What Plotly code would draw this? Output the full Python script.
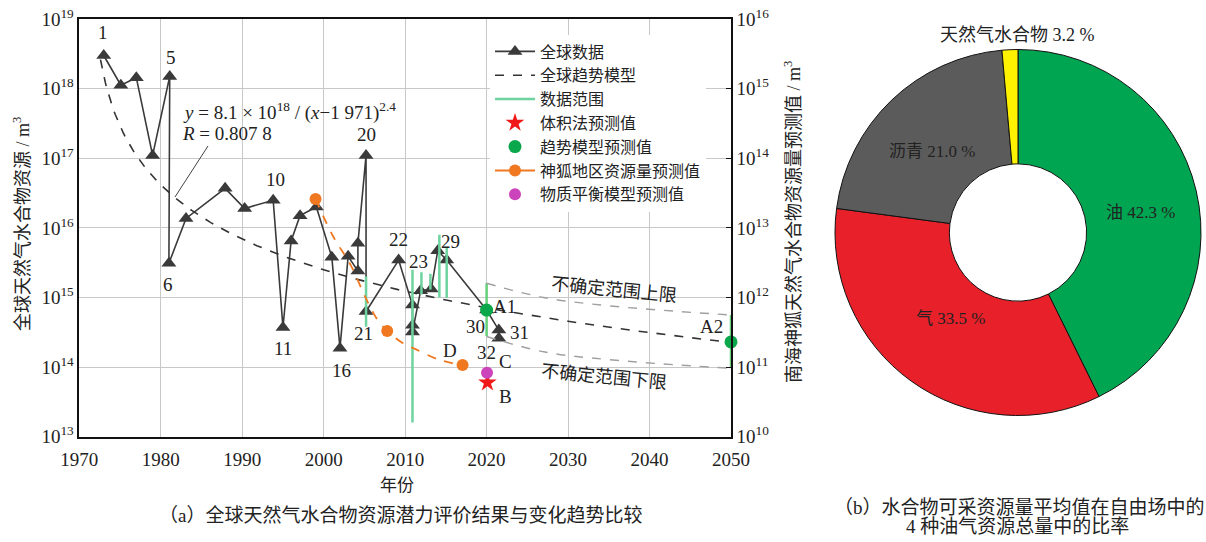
import plotly.graph_objects as go

W, H = 1206, 542
FONT = "Liberation Serif, Noto Sans CJK SC, serif"

# ---------------- data: global hydrate estimates (left axis, m^3) ----------------
g_years = [1973, 1975.1, 1977, 1979, 1981.1, 1981, 1983.1, 1987.9, 1990.3, 1993.8,
           1995, 1996, 1997.1, 1999.1, 2001, 2002, 2003, 2004.2, 2004.2, 2005.2,
           2005.2, 2009.2, 2010.9, 2010.9, 2010.9, 2011.9, 2013.2, 2014, 2015.1,
           2020, 2021.5, 2021.5]
g_values = [3.0e18, 1.12e18, 1.44e18, 1.1e17, 1.5e18, 3.1e15, 1.37e16, 3.7e16, 1.9e16, 2.5e16,
            3.7e14, 6.5e15, 1.5e16, 2.0e16, 3.8e15, 1.87e14, 3.9e15, 2.4e15, 6.0e15, 1.1e17,
            6.3e14, 3.45e15, 7.8e14, 4.0e14, 3.2e14, 1.25e15, 1.32e15, 4.7e15, 3.45e15,
            6.6e14, 3.4e14, 2.6e14]

# data ranges (green bars)
range_years = [2005.2, 2010.9, 2012.0, 2013.1, 2014.2, 2015.1]
range_low = [3.8e14, 1.6e13, 1.1e15, 1.3e15, 1.0e15, 9.8e14]
range_high = [2.0e15, 2.5e15, 2.3e15, 2.2e15, 8.0e15, 5.2e15]

# trend model y = 8.1e18 / (x - 1971)^2.4 (as stated in the chart)
model_a, model_x0, model_p = 8.1e18, 1971, 2.4
model_years = [1972.6 + i * 0.2 for i in range(int((2050 - 1972.6) / 0.2) + 1)]

# ---------------- Shenhu predictions (right axis, m^3) ----------------
a_years = [2020, 2050]
a_values = [6.6e11, 2.3e11]
a_high = [1.6e12, 5.6e11]
a_low = [2.8e11, 9.6e10]

unc_years = [2020, 2027, 2035, 2050]
unc_upper = [1.6e12, 1.0e12, 7.6e11, 5.6e11]
unc_lower = [2.75e11, 1.66e11, 1.28e11, 9.6e10]

sh_curve_years = [1999.0, 2001.2, 2003.3, 2005.1, 2006.5, 2007.8, 2009.5, 2011.4, 2014.3, 2017.05]
sh_curve_vals = [2.6e13, 7.4e12, 2.95e12, 1.02e12, 5.0e11, 3.3e11, 2.3e11, 1.78e11, 1.26e11, 1.07e11]
sh_pt_years = [1999.0, 2007.8, 2017.05]
sh_pt_vals = [2.6e13, 3.3e11, 1.07e11]

b_year, b_value = 2020.1, 6.0e10   # volumetric
c_year, c_value = 2020.05, 8.3e10  # material balance

# ---------------- pie ----------------
pie_labels = ["油", "气", "沥青", "天然气水合物"]
pie_text = ["油 42.3 %", "气 33.5 %", "沥青 21.0 %", "天然气水合物 3.2 %"]
pie_values = [42.7, 34.4, 21.5, 1.4]   # slice sizes as drawn
pie_colors = ["#00A551", "#E8202A", "#5B5B5B", "#FFF200"]

ytick_vals = [13, 14, 15, 16, 17, 18, 19]


def P(px, py):
    return px / W, 1 - py / H


fig = go.Figure()

fig.add_trace(go.Scatter(x=g_years, y=g_values, mode="lines+markers", name="全球数据",
                         line=dict(color="#3a3a3a", width=1.6),
                         marker=dict(symbol="triangle-up", size=13, color="#3a3a3a"),
                         cliponaxis=False))
fig.add_trace(go.Scatter(x=model_years,
                         y=[model_a / (x - model_x0) ** model_p for x in model_years],
                         mode="lines", name="全球趋势模型",
                         line=dict(color="#333333", width=1.6, dash="dash")))
rx, ry = [], []
for yr, lo, hi in zip(range_years, range_low, range_high):
    rx += [yr, yr, None]
    ry += [lo, hi, None]
fig.add_trace(go.Scatter(x=rx, y=ry, mode="lines", name="数据范围",
                         line=dict(color="#6fd3a0", width=2.5)))
fig.add_trace(go.Scatter(x=[b_year], y=[b_value], yaxis="y2", mode="markers", name="体积法预测值",
                         marker=dict(symbol="star", size=14, color="#f01818")))
fig.add_trace(go.Scatter(x=a_years, y=a_values, yaxis="y2", mode="markers", name="趋势模型预测值",
                         marker=dict(symbol="circle", size=13, color="#0aa84a"),
                         error_y=dict(type="data", symmetric=False,
                                      array=[h - v for h, v in zip(a_high, a_values)],
                                      arrayminus=[v - l for v, l in zip(a_values, a_low)],
                                      color="#66d07a", thickness=2.5, width=0),
                         cliponaxis=False))
# Shenhu: legend entry (line with dot), dashed curve, points
fig.add_trace(go.Scatter(x=[None], y=[None], yaxis="y2", mode="lines+markers",
                         name="神狐地区资源量预测值", legendgroup="sh",
                         line=dict(color="#f07820", width=2),
                         marker=dict(symbol="circle", size=12, color="#f07820")))
fig.add_trace(go.Scatter(x=sh_curve_years, y=sh_curve_vals, yaxis="y2", mode="lines",
                         showlegend=False, legendgroup="sh",
                         line=dict(color="#f07820", width=1.8, dash="dash", shape="spline")))
fig.add_trace(go.Scatter(x=sh_pt_years, y=sh_pt_vals, yaxis="y2", mode="markers",
                         showlegend=False, legendgroup="sh",
                         marker=dict(symbol="circle", size=12, color="#f07820")))
fig.add_trace(go.Scatter(x=[c_year], y=[c_value], yaxis="y2", mode="markers", name="物质平衡模型预测值",
                         marker=dict(symbol="circle", size=12, color="#cc44bb")))
fig.add_trace(go.Scatter(x=unc_years, y=unc_upper, yaxis="y2", mode="lines", showlegend=False,
                         line=dict(color="#a0a0a0", width=1.4, dash="dash", shape="spline")))
fig.add_trace(go.Scatter(x=unc_years, y=unc_lower, yaxis="y2", mode="lines", showlegend=False,
                         line=dict(color="#a0a0a0", width=1.4, dash="dash", shape="spline")))

fig.add_trace(go.Pie(labels=pie_labels, values=pie_values, sort=False, direction="clockwise",
                     rotation=0, hole=0.375, textinfo="none", showlegend=False,
                     marker=dict(colors=pie_colors, line=dict(color="#111111", width=1)),
                     domain=dict(x=[835 / W, 1201 / W], y=[1 - 415.5 / H, 1 - 49.5 / H])))

x0d, x1d = 79.3 / W, 731 / W
y0d, y1d = 1 - 436.7 / H, 1 - 19.1 / H

fig.update_layout(
    width=W, height=H, margin=dict(l=0, r=0, t=0, b=0, autoexpand=False),
    paper_bgcolor="white", plot_bgcolor="white",
    font=dict(family=FONT, size=16, color="#222222"),
    xaxis=dict(domain=[x0d, x1d], range=[1970, 2050], dtick=10, tick0=1970,
               showgrid=True, gridcolor="#c8c8c8", gridwidth=1,
               showline=True, linecolor="#111111", linewidth=1.5, mirror=True,
               ticks="", ticklabelstandoff=5,
               tickfont=dict(family=FONT, size=19), zeroline=False, automargin=False),
    yaxis=dict(domain=[y0d, y1d], type="log", range=[13, 19],
               tickvals=[10 ** v for v in ytick_vals],
               ticktext=["10<sup>%d</sup>" % v for v in ytick_vals],
               showgrid=True, gridcolor="#c8c8c8", gridwidth=1,
               showline=True, linecolor="#111111", linewidth=1.5,
               ticks="", tickfont=dict(family=FONT, size=19), zeroline=False, automargin=False),
    yaxis2=dict(overlaying="y", side="right", anchor="x", type="log", range=[10, 16],
                tickvals=[10 ** (v - 3) for v in ytick_vals],
                ticktext=["10<sup>%d</sup>" % (v - 3) for v in ytick_vals],
                showgrid=False, showline=True, linecolor="#111111", linewidth=1.5,
                ticks="inside", ticklen=5, tickcolor="#111111",
                tickfont=dict(family=FONT, size=19), zeroline=False, automargin=False),
    legend=dict(x=490 / W, y=1 - 34.5 / H, xanchor="left", yanchor="top",
                bgcolor="white", borderwidth=0, font=dict(family=FONT, size=16),
                itemwidth=40, tracegroupgap=0),
)

ann = []


def add_text(text, px, py, size=19, angle=0, xanchor="center"):
    x, y = P(px, py)
    ann.append(dict(text=text, x=x, y=y, xref="paper", yref="paper", showarrow=False,
                    xanchor=xanchor, yanchor="middle", textangle=angle,
                    font=dict(family=FONT, size=size, color="#222222")))


for t, px, py in [("1", 103, 33), ("5", 171, 57), ("6", 168, 284), ("10", 275, 180),
                  ("11", 283, 348), ("16", 341, 370), ("20", 366, 134), ("21", 363, 333),
                  ("22", 398, 239), ("23", 418, 261), ("29", 450, 242), ("30", 475, 326),
                  ("31", 519, 332), ("32", 486, 352), ("D", 450, 350), ("C", 505, 362),
                  ("B", 505, 396), ("A2", 711, 326)]:
    add_text(t, px, py)
add_text("A1", 491, 306, xanchor="left")

add_text("<i>y</i> = 8.1 × 10<sup>18</sup> / (<i>x</i>−1 971)<sup>2.4</sup>", 181, 112, size=19, xanchor="left")
add_text("<i>R</i> = 0.807 8", 180, 133, size=19, xanchor="left")

add_text("不确定范围上限", 614, 290, size=18, angle=5.6)
add_text("不确定范围下限", 604, 377, size=18, angle=5.5)

add_text("全球天然气水合物资源 / m<sup>3</sup>", 22, 224, size=18, angle=-90)
add_text("南海神狐天然气水合物资源量预测值 / m<sup>3</sup>", 792, 222, size=18, angle=-90)
add_text("年份", 397, 485, size=17)
add_text("（a）全球天然气水合物资源潜力评价结果与变化趋势比较", 400, 515, size=19)

add_text(pie_text[3], 1017, 35, size=18)
add_text(pie_text[0], 1140, 212, size=17)
add_text(pie_text[1], 950, 318, size=17)
add_text(pie_text[2], 932, 151, size=17)
add_text("（b）水合物可采资源量平均值在自由场中的", 1019, 507, size=19)
add_text("4 种油气资源总量中的比率", 1017, 526, size=19)

fig.update_layout(annotations=ann)

lx0, ly0 = P(208, 146)
lx1, ly1 = P(175, 197)
fig.add_shape(type="line", xref="paper", yref="paper", x0=lx0, y0=ly0, x1=lx1, y1=ly1,
              line=dict(color="#444444", width=1))

fig.write_html("out.html", config={"displayModeBar": False},
               post_script="document.body.style.margin='0';document.body.style.padding='0';")
